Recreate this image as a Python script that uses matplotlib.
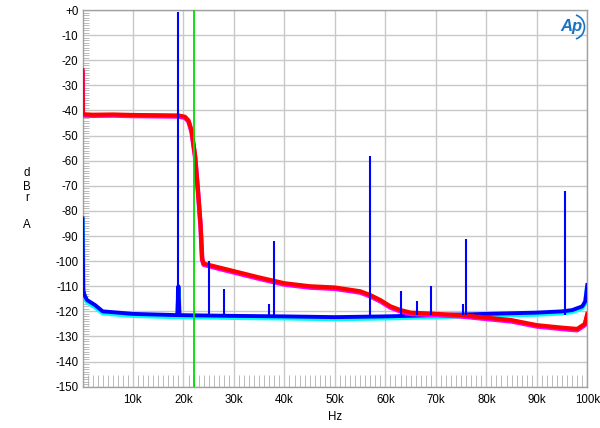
import matplotlib
matplotlib.use("Agg")
import matplotlib.pyplot as plt
from matplotlib.patches import Arc

plt.rcParams['font.family'] = ['Liberation Sans', 'DejaVu Sans']

# ---- data (Hz, dBrA) ----
red_f = [0, 60, 200, 2000, 6000, 10000, 15000, 19000, 20300, 21000, 21600, 22300, 22900,
         23400, 23700, 24000, 27000, 30000, 35000, 40000, 45000, 50000, 55000, 57000,
         59000, 61000, 63000, 65000, 70000, 75000, 80000, 85000, 90000, 95000, 98000,
         99500, 100000]
red_db = [-24, -40.5, -41.5, -41.7, -41.6, -41.8, -41.9, -42, -42.5, -44, -48, -58, -72.5,
          -86, -99, -101, -102.5, -104, -106.5, -108.8, -110, -110.5, -112, -113.5,
          -115.5, -118, -119.5, -120.5, -121, -121.5, -122.5, -123.5, -125.5, -126.5, -127,
          -125, -121]

mag_f = red_f
mag_db = [-25, -41, -42, -42.1, -42, -42.2, -42.3, -42.4, -42.9, -44.4, -48.4, -58.4, -72.9,
          -86.4, -99.4, -101.4, -103, -104.5, -107, -109.3, -110.5, -111, -112.5, -114,
          -116, -118.5, -120, -121, -121.5, -122, -123, -124, -126, -127, -127.5,
          -125.5, -122]

blue_f = [0, 150, 400, 900, 2500, 4000, 10000, 18800, 19000, 19200, 30000, 40000, 50000,
          60000, 70000, 80000, 90000, 95000, 97000, 99000, 99600, 100000]
blue_db = [-83, -111.5, -113.5, -115.5, -117.5, -120, -121, -121.5, -110, -121.5, -121.8,
           -122, -122.3, -122, -121.5, -121, -120.5, -120, -119.5, -118, -116, -109.5]

cyan_f = blue_f
cyan_db = [-84, -112.3, -114.3, -116.3, -118.3, -120.7, -121.7, -122.2, -111, -122.2, -122.5,
           -122.7, -123, -122.7, -122.2, -121.7, -121.2, -120.7, -120.2, -118.7, -116.7, -110.5]

spike_f = [19000, 25100, 28000, 36900, 38000, 57000, 63100, 66200, 69000, 75300, 76000, 95500]
spike_db = [-0.8, -100, -111, -117, -92, -58, -112, -116, -110, -117, -91, -72]
spike_floor = -121.5

nyquist_f = 22050

xticks = [10000, 20000, 30000, 40000, 50000, 60000, 70000, 80000, 90000, 100000]
xticklabels = ['10k', '20k', '30k', '40k', '50k', '60k', '70k', '80k', '90k', '100k']
yticks = list(range(0, -151, -10))
yticklabels = ['+0'] + [str(v) for v in yticks[1:]]

# ---- figure ----
fig = plt.figure(figsize=(6.0, 4.28), dpi=100)
ax = fig.add_axes([0.1375, 0.0965, 0.8413, 0.8801])

grid_c = '#c8c8c8'
ax.set_xlim(0, 100000)
ax.set_ylim(-150, 0)
ax.set_xticks(xticks)
ax.set_yticks(yticks)
ax.grid(True, which='major', color=grid_c, lw=1.0)
ax.set_axisbelow(True)

ax.plot(cyan_f, cyan_db, color='#00ffff', lw=3.4, solid_joinstyle='round', zorder=2)
ax.plot(blue_f, blue_db, color='#0000ff', lw=2.8, solid_joinstyle='round', zorder=3)
ax.plot(mag_f, mag_db, color='#ff00ff', lw=3.3, solid_joinstyle='round', zorder=4)
ax.plot(red_f, red_db, color='#ff0000', lw=3.0, solid_joinstyle='round', zorder=5)
ax.vlines(spike_f, spike_floor, spike_db, color='#0000ff', lw=1.5, zorder=6)
ax.axvline(nyquist_f, color='#00dd00', lw=1.3, zorder=7)

ax.set_xticklabels(xticklabels, fontsize=8.3)
ax.set_yticklabels(yticklabels, fontsize=8.3)
ax.tick_params(axis='both', which='major', length=0, pad=3)
ax.tick_params(axis='x', pad=5)
# minor ticks
ax.set_xticks(list(range(1000, 100000, 1000)), minor=True)
ax.set_yticks(list(range(-149, 0, 1)), minor=True)
ax.tick_params(axis='x', which='minor', direction='in', length=9, width=0.6, color='#b0b0b0')
ax.tick_params(axis='y', which='minor', direction='in', length=4, width=0.6, color='#b0b0b0')

for s in ax.spines.values():
    s.set_color('#a0a0a0')
    s.set_linewidth(1.0)

ax.set_xlabel('Hz', fontsize=8.3, labelpad=4)

# stacked y label
for ch, yp in zip(['d', 'B', 'r', 'A'], [172.7, 186.5, 198.5, 225]):
    fig.text(27 / 600, 1 - yp / 428, ch, fontsize=8.3, ha='center', va='center')

# Ap logo
ax.text(0.968, 0.955, 'Ap', transform=ax.transAxes, fontsize=12, style='italic',
        color='#1a73c0', ha='center', va='center', fontweight='bold', zorder=8)
arc = Arc((0.972, 0.955), 0.045, 0.065, angle=0, theta1=-80, theta2=80,
          transform=ax.transAxes, color='#1a73c0', lw=1.2, zorder=8)
ax.add_patch(arc)

fig.savefig('out.png', dpi=100)
